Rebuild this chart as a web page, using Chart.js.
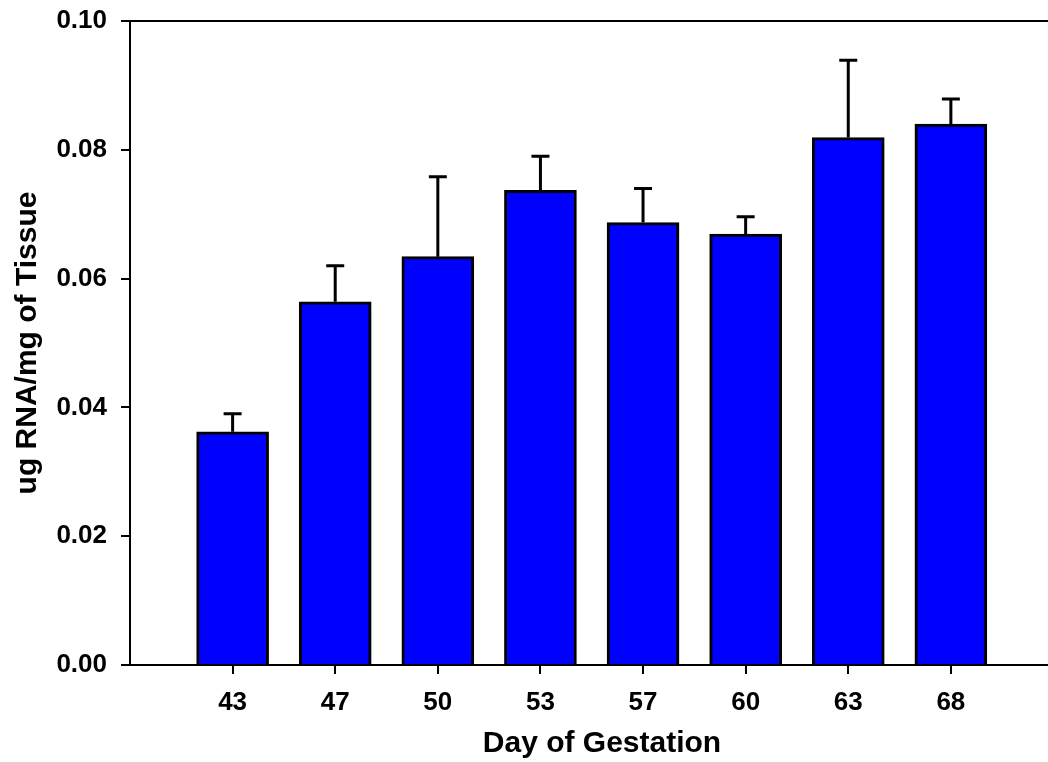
<!DOCTYPE html>
<html>
<head>
<meta charset="utf-8">
<script src="https://cdn.jsdelivr.net/npm/chart.js@4/dist/chart.umd.min.js"></script>
<style>
  html, body { margin: 0; padding: 0; background: #fff; overflow: hidden; }
  #wrap { width: 1048px; height: 762px; overflow: hidden; }
</style>
</head>
<body>
<div id="wrap"><canvas id="c" width="1074" height="762"></canvas></div>
<script>
// Day of gestation for each group
const days = ['43', '47', '50', '53', '57', '60', '63', '68'];
// Mean ug RNA per mg of tissue
const rnaMean = [0.0362, 0.0564, 0.0634, 0.0737, 0.0687, 0.0669, 0.0819, 0.0840];
// Upper error (SEM)
const rnaErr = [0.0028, 0.0056, 0.0124, 0.0053, 0.0053, 0.0027, 0.0120, 0.0039];
// Y axis ticks
const yTicks = [0.00, 0.02, 0.04, 0.06, 0.08, 0.10];

const FONT = "'Liberation Sans', Arial, Helvetica, sans-serif";

// Upward error bars with caps
const errorBars = {
  id: 'errorBars',
  afterDatasetsDraw(chart) {
    const { ctx, scales: { x, y } } = chart;
    ctx.save();
    ctx.strokeStyle = '#000';
    ctx.lineWidth = 3;
    ctx.lineCap = 'butt';
    rnaMean.forEach((m, i) => {
      const px = x.getPixelForValue(i + 1);
      const y0 = y.getPixelForValue(m);
      const y1 = y.getPixelForValue(m + rnaErr[i]);
      ctx.beginPath();
      ctx.moveTo(px, y0);
      ctx.lineTo(px, y1);
      ctx.moveTo(px - 9, y1);
      ctx.lineTo(px + 9, y1);
      ctx.stroke();
    });
    ctx.restore();
  }
};

// Horizontal frame line along the top of the plot
const topLine = {
  id: 'topLine',
  afterDraw(chart) {
    const { ctx, chartArea, scales: { y } } = chart;
    const py = y.getPixelForValue(yTicks[yTicks.length - 1]);
    ctx.save();
    ctx.strokeStyle = '#000';
    ctx.lineWidth = 2;
    ctx.beginPath();
    ctx.moveTo(chartArea.left, py);
    ctx.lineTo(chartArea.right, py);
    ctx.stroke();
    ctx.restore();
  }
};

new Chart(document.getElementById('c'), {
  type: 'bar',
  data: {
    datasets: [{
      data: rnaMean.map((v, i) => ({ x: i + 1, y: v })),
      backgroundColor: '#0000FF',
      borderColor: '#000',
      borderWidth: 3,
      barThickness: 72
    }]
  },
  options: {
    responsive: false,
    animation: false,
    devicePixelRatio: 1,
    layout: { padding: { top: 21, right: 0, bottom: 0, left: 0 } },
    plugins: { legend: { display: false }, tooltip: { enabled: false } },
    scales: {
      x: {
        type: 'linear',
        min: 0,
        max: 9.2,
        offset: false,
        afterFit(scale) { scale.height = 97; scale.paddingLeft = 0; scale.paddingRight = 0; },
        afterBuildTicks(scale) { scale.ticks = days.map((_, i) => ({ value: i + 1 })); },
        ticks: {
          autoSkip: false,
          maxRotation: 0,
          padding: 13,
          color: '#000',
          font: { family: FONT, size: 26, weight: 'bold' },
          callback: (v) => days[v - 1]
        },
        grid: { offset: false, drawOnChartArea: false, drawTicks: true, tickLength: 9, color: '#000', lineWidth: 2 },
        border: { display: true, color: '#000', width: 2 },
        title: {
          display: true,
          text: 'Day of Gestation',
          color: '#000',
          font: { family: FONT, size: 30, weight: 'bold' },
          padding: { top: 0, bottom: 0 }
        }
      },
      y: {
        min: 0,
        max: 0.1,
        afterFit(scale) { scale.width = 130; scale.paddingTop = 0; scale.paddingBottom = 0; },
        afterBuildTicks(scale) { scale.ticks = yTicks.map(v => ({ value: v })); },
        ticks: {
          padding: 14,
          color: '#000',
          font: { family: FONT, size: 26, weight: 'bold' },
          callback: (v) => v.toFixed(2)
        },
        grid: { drawOnChartArea: false, drawTicks: true, tickLength: 9, color: '#000', lineWidth: 2 },
        border: { display: true, color: '#000', width: 2 },
        title: {
          display: true,
          text: 'ug RNA/mg of Tissue',
          color: '#000',
          font: { family: FONT, size: 30, weight: 'bold' },
          padding: { top: 10, bottom: 0 }
        }
      }
    }
  },
  plugins: [errorBars, topLine]
});
</script>
</body>
</html>
